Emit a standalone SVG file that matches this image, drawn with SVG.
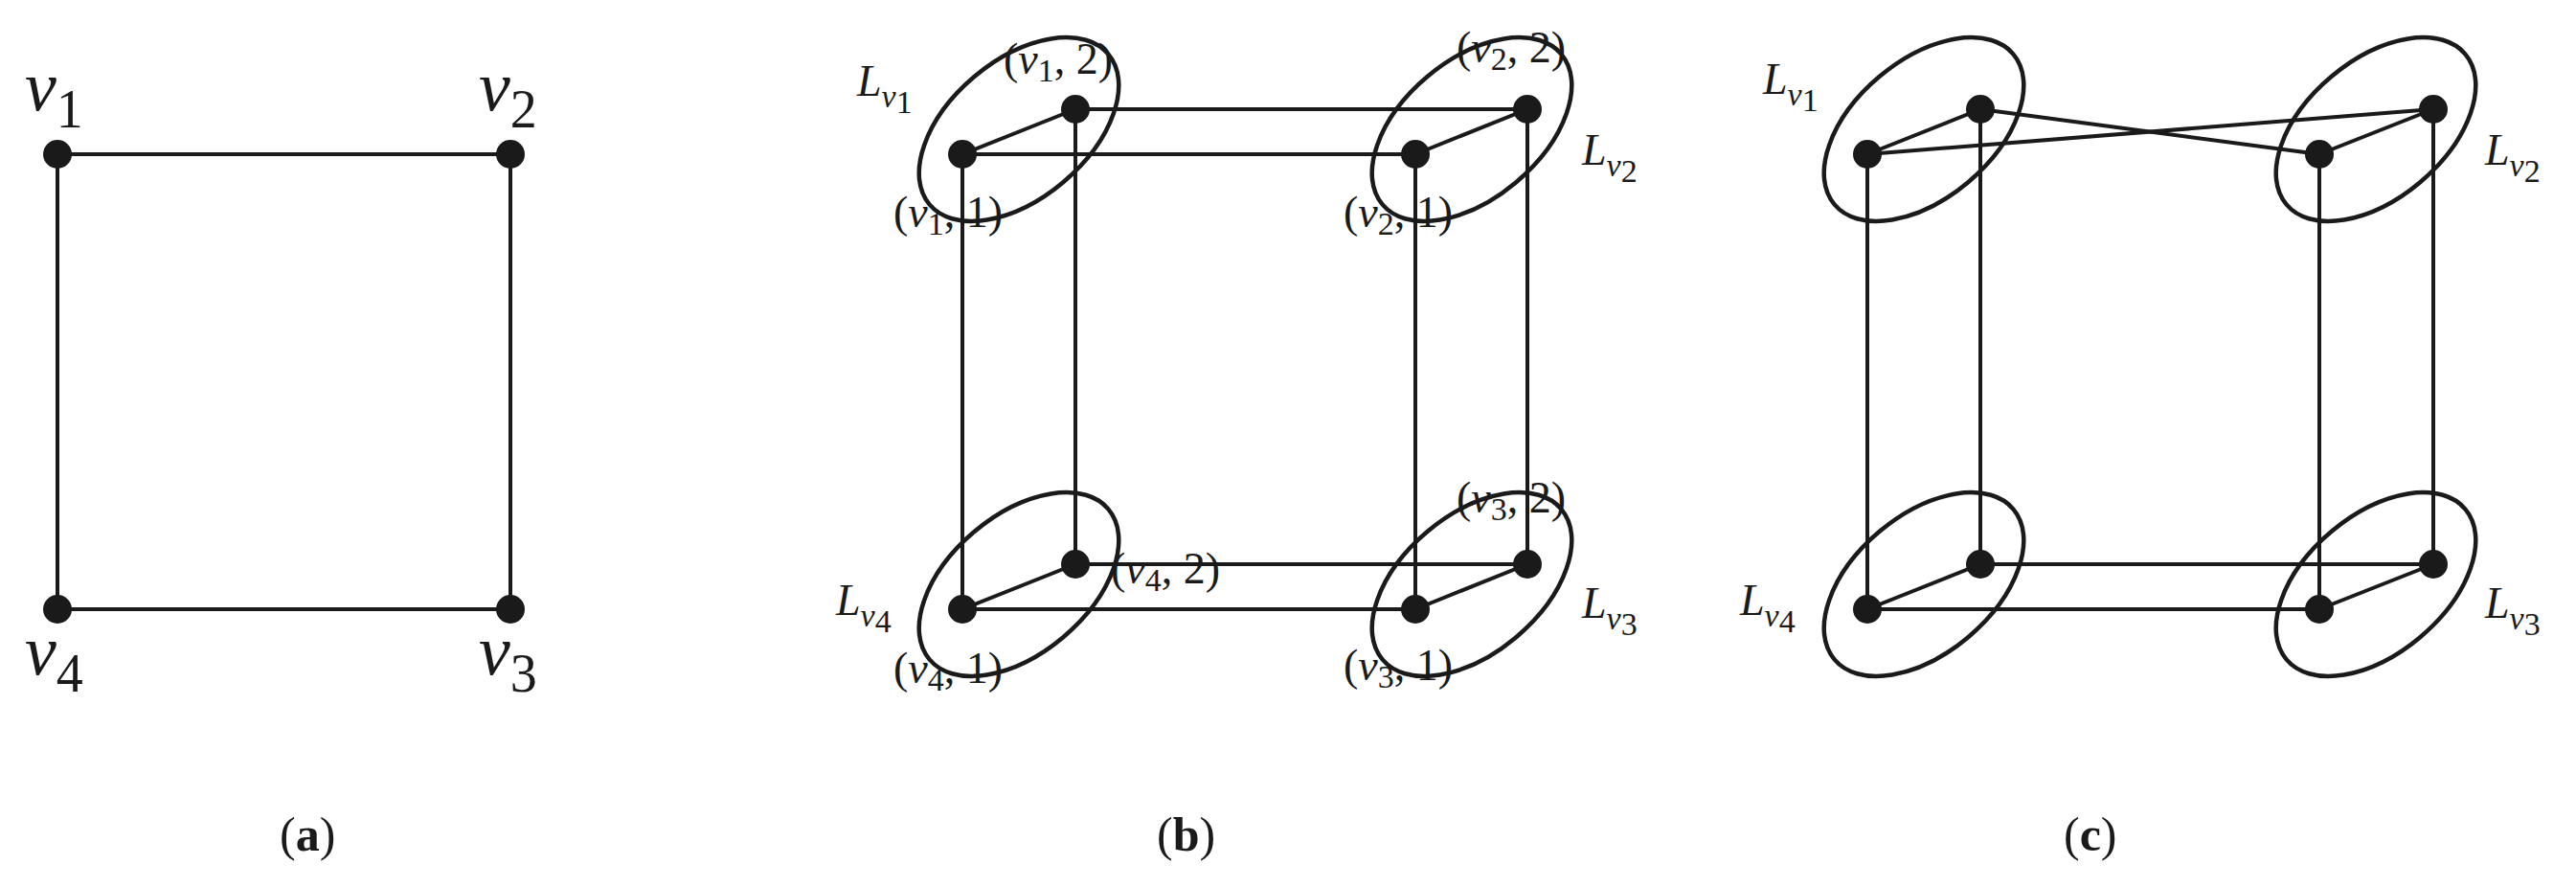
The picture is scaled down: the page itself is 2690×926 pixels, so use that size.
<svg xmlns="http://www.w3.org/2000/svg" width="2690" height="926" viewBox="0 0 2690 926">
<style>
line{stroke:#1a1a1a;stroke-width:4}
ellipse{fill:none;stroke:#1a1a1a;stroke-width:4.5}
circle{fill:#1a1a1a}
text{font-family:"Liberation Serif","DejaVu Serif",serif;fill:#1a1a1a}
.big{font-size:74px}
.lab{font-size:46px}
.cap{font-size:50px}
.i{font-style:italic}
.s{font-size:34px}
.bs{font-size:56px}
</style>
<rect width="2690" height="926" fill="#fff"/>
<g id="connectors">
<line x1="60" y1="161" x2="533" y2="161"/><line x1="60" y1="636" x2="533" y2="636"/>
<line x1="60" y1="161" x2="60" y2="636"/><line x1="533" y1="161" x2="533" y2="636"/>
<line x1="1005" y1="161" x2="1123" y2="114"/><line x1="1478" y1="161" x2="1595" y2="114"/>
<line x1="1005" y1="636" x2="1123" y2="589"/><line x1="1478" y1="636" x2="1595" y2="589"/>
<line x1="1005" y1="161" x2="1478" y2="161"/><line x1="1123" y1="114" x2="1595" y2="114"/>
<line x1="1005" y1="636" x2="1478" y2="636"/><line x1="1123" y1="589" x2="1595" y2="589"/>
<line x1="1005" y1="161" x2="1005" y2="636"/><line x1="1123" y1="114" x2="1123" y2="589"/>
<line x1="1478" y1="161" x2="1478" y2="636"/><line x1="1595" y1="114" x2="1595" y2="589"/>
<line x1="1950" y1="161" x2="2068" y2="114"/><line x1="2422" y1="161" x2="2541" y2="114"/>
<line x1="1950" y1="636" x2="2068" y2="589"/><line x1="2422" y1="636" x2="2541" y2="589"/>
<line x1="1950" y1="161" x2="2541" y2="114"/><line x1="2068" y1="114" x2="2422" y2="161"/>
<line x1="1950" y1="636" x2="2422" y2="636"/><line x1="2068" y1="589" x2="2541" y2="589"/>
<line x1="1950" y1="161" x2="1950" y2="636"/><line x1="2068" y1="114" x2="2068" y2="589"/>
<line x1="2422" y1="161" x2="2422" y2="636"/><line x1="2541" y1="114" x2="2541" y2="589"/>
</g>
<g id="a-v1"><circle cx="60" cy="161" r="15"/><text x="26" y="115" class="big i">v<tspan class="bs" font-style="normal" dy="18">1</tspan></text></g>
<g id="a-v2"><circle cx="533" cy="161" r="15"/><text x="500" y="115" class="big i">v<tspan class="bs" font-style="normal" dy="18">2</tspan></text></g>
<g id="a-v4"><circle cx="60" cy="636" r="15"/><text x="26" y="704" class="big i">v<tspan class="bs" font-style="normal" dy="18">4</tspan></text></g>
<g id="a-v3"><circle cx="533" cy="636" r="15"/><text x="500" y="704" class="big i">v<tspan class="bs" font-style="normal" dy="18">3</tspan></text></g>
<text x="292" y="888" class="cap">(<tspan font-weight="bold">a</tspan>)</text>
<g id="b-Lv1"><ellipse cx="1064" cy="135" rx="122" ry="72" transform="rotate(-40 1064 135)"/><circle cx="1005" cy="161" r="15"/><circle cx="1123" cy="114" r="15"/>
<text x="895" y="100" class="lab i">L<tspan class="s" dy="12">v</tspan><tspan class="s" font-style="normal" font-size="26" dy="6">1</tspan></text>
<text x="1048" y="77" class="lab">(<tspan class="i">v</tspan><tspan class="s" dy="8">1</tspan><tspan dy="-8">, 2)</tspan></text>
<text x="933" y="237" class="lab">(<tspan class="i">v</tspan><tspan class="s" dy="8">1</tspan><tspan dy="-8">, 1)</tspan></text></g>
<g id="b-Lv2"><ellipse cx="1537" cy="135" rx="122" ry="72" transform="rotate(-40 1537 135)"/><circle cx="1478" cy="161" r="15"/><circle cx="1595" cy="114" r="15"/>
<text x="1652" y="172" class="lab i">L<tspan class="s" dy="12">v</tspan><tspan class="s" font-style="normal" font-size="26" dy="6">2</tspan></text>
<text x="1521" y="65" class="lab">(<tspan class="i">v</tspan><tspan class="s" dy="8">2</tspan><tspan dy="-8">, 2)</tspan></text>
<text x="1403" y="237" class="lab">(<tspan class="i">v</tspan><tspan class="s" dy="8">2</tspan><tspan dy="-8">, 1)</tspan></text></g>
<g id="b-Lv4"><ellipse cx="1064" cy="610" rx="122" ry="72" transform="rotate(-40 1064 610)"/><circle cx="1005" cy="636" r="15"/><circle cx="1123" cy="589" r="15"/>
<text x="873" y="642" class="lab i">L<tspan class="s" dy="12">v</tspan><tspan class="s" font-style="normal" font-size="26" dy="6">4</tspan></text>
<text x="1160" y="609" class="lab">(<tspan class="i">v</tspan><tspan class="s" dy="8">4</tspan><tspan dy="-8">, 2)</tspan></text>
<text x="933" y="713" class="lab">(<tspan class="i">v</tspan><tspan class="s" dy="8">4</tspan><tspan dy="-8">, 1)</tspan></text></g>
<g id="b-Lv3"><ellipse cx="1537" cy="610" rx="122" ry="72" transform="rotate(-40 1537 610)"/><circle cx="1478" cy="636" r="15"/><circle cx="1595" cy="589" r="15"/>
<text x="1652" y="645" class="lab i">L<tspan class="s" dy="12">v</tspan><tspan class="s" font-style="normal" font-size="26" dy="6">3</tspan></text>
<text x="1521" y="535" class="lab">(<tspan class="i">v</tspan><tspan class="s" dy="8">3</tspan><tspan dy="-8">, 2)</tspan></text>
<text x="1403" y="710" class="lab">(<tspan class="i">v</tspan><tspan class="s" dy="8">3</tspan><tspan dy="-8">, 1)</tspan></text></g>
<text x="1208" y="888" class="cap">(<tspan font-weight="bold">b</tspan>)</text>
<g id="c-Lv1"><ellipse cx="2009" cy="135" rx="122" ry="72" transform="rotate(-40 2009 135)"/><circle cx="1950" cy="161" r="15"/><circle cx="2068" cy="114" r="15"/>
<text x="1841" y="98" class="lab i">L<tspan class="s" dy="12">v</tspan><tspan class="s" font-style="normal" font-size="26" dy="6">1</tspan></text></g>
<g id="c-Lv2"><ellipse cx="2481" cy="135" rx="122" ry="72" transform="rotate(-40 2481 135)"/><circle cx="2422" cy="161" r="15"/><circle cx="2541" cy="114" r="15"/>
<text x="2595" y="172" class="lab i">L<tspan class="s" dy="12">v</tspan><tspan class="s" font-style="normal" font-size="26" dy="6">2</tspan></text></g>
<g id="c-Lv4"><ellipse cx="2009" cy="610" rx="122" ry="72" transform="rotate(-40 2009 610)"/><circle cx="1950" cy="636" r="15"/><circle cx="2068" cy="589" r="15"/>
<text x="1817" y="642" class="lab i">L<tspan class="s" dy="12">v</tspan><tspan class="s" font-style="normal" font-size="26" dy="6">4</tspan></text></g>
<g id="c-Lv3"><ellipse cx="2481" cy="610" rx="122" ry="72" transform="rotate(-40 2481 610)"/><circle cx="2422" cy="636" r="15"/><circle cx="2541" cy="589" r="15"/>
<text x="2595" y="645" class="lab i">L<tspan class="s" dy="12">v</tspan><tspan class="s" font-style="normal" font-size="26" dy="6">3</tspan></text></g>
<text x="2155" y="888" class="cap">(<tspan font-weight="bold">c</tspan>)</text>
</svg>
